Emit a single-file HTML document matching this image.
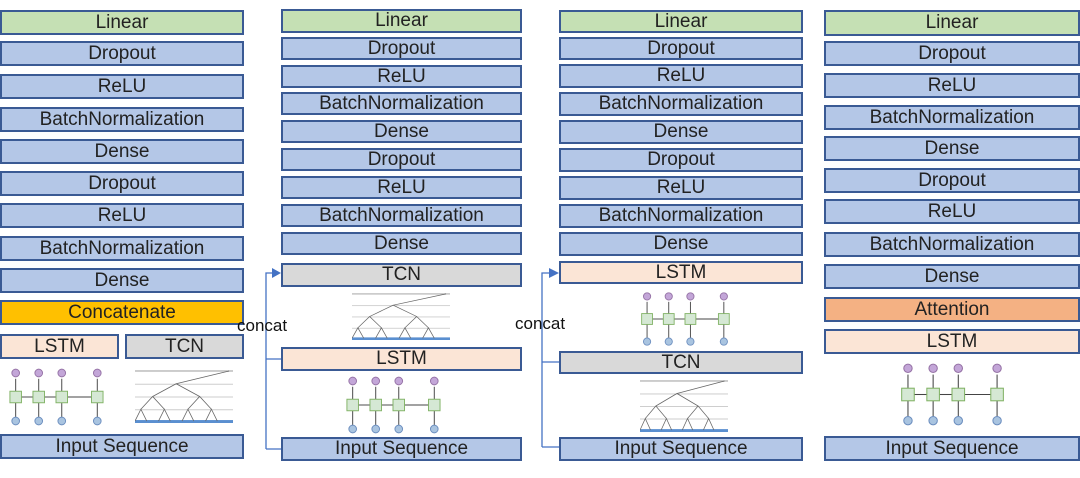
<!DOCTYPE html><html><head><style>
body{margin:0;width:1080px;height:478px;background:#fff;position:relative;overflow:hidden;font-family:"Liberation Sans",sans-serif}
.b{position:absolute;box-sizing:border-box;border:2px solid #3a5a94;background:#b4c7e7;text-align:center;font-size:19px;color:#222;display:flex;align-items:center;justify-content:center}
.g{background:#c5e0b4}.o{background:#ffc000}.p{background:#fbe5d6}.r{background:#d9d9d9}.a{background:#f4b183}
.t{position:absolute;font-size:17px;color:#111}
svg{position:absolute}
</style></head><body>
<svg width="0" height="0"><defs>
<symbol id="ls" viewBox="0 0 100 62">
<g stroke="#444" stroke-width="1" fill="none">
<line x1="8" y1="12" x2="8" y2="52"/><line x1="32" y1="12" x2="32" y2="52"/><line x1="56" y1="12" x2="56" y2="52"/><line x1="93" y1="12" x2="93" y2="52"/>
<line x1="14" y1="31" x2="26" y2="31"/><line x1="38" y1="31" x2="50" y2="31"/><line x1="62" y1="31" x2="87" y2="31"/></g>
<g fill="#d5e8d4" stroke="#82b366"><rect x="2" y="25" width="12" height="12"/><rect x="26" y="25" width="12" height="12"/><rect x="50" y="25" width="12" height="12"/><rect x="87" y="25" width="12" height="12"/></g>
<g fill="#c3a6d8" stroke="#9673a6"><circle cx="8" cy="6" r="4"/><circle cx="32" cy="6" r="4"/><circle cx="56" cy="6" r="4"/><circle cx="93" cy="6" r="4"/></g>
<g fill="#a9c4e0" stroke="#6c8ebf"><circle cx="8" cy="56" r="4"/><circle cx="32" cy="56" r="4"/><circle cx="56" cy="56" r="4"/><circle cx="93" cy="56" r="4"/></g>
</symbol>
<symbol id="tc" viewBox="0 0 100 54">
<g fill="#ccc"><rect x="0" y="0" width="100" height="2"/><rect x="0" y="14" width="100" height="1"/><rect x="0" y="27" width="100" height="1"/><rect x="0" y="40" width="100" height="1"/></g>
<g fill="#5a8fd0"><rect x="0" y="51" width="100" height="3"/></g>
<g stroke="#666" stroke-width="0.8" fill="none"><path d="M0 52 L6 40 L12 52 M24 52 L30 40 L36 52 M48 52 L54 40 L60 52 M72 52 L78 40 L84 52 M6 40 L18 27 L30 40 M54 40 L66 27 L78 40 M18 27 L42 14 L66 27 M42 14 L96 1"/></g>
</symbol></defs></svg>

<!-- col1 -->
<div class="b g" style="left:0;top:10px;width:244px;height:25px">Linear</div>
<div class="b" style="left:0;top:41px;width:244px;height:25px">Dropout</div>
<div class="b" style="left:0;top:74px;width:244px;height:25px">ReLU</div>
<div class="b" style="left:0;top:107px;width:244px;height:25px">BatchNormalization</div>
<div class="b" style="left:0;top:139px;width:244px;height:25px">Dense</div>
<div class="b" style="left:0;top:171px;width:244px;height:25px">Dropout</div>
<div class="b" style="left:0;top:203px;width:244px;height:25px">ReLU</div>
<div class="b" style="left:0;top:236px;width:244px;height:25px">BatchNormalization</div>
<div class="b" style="left:0;top:268px;width:244px;height:25px">Dense</div>
<div class="b o" style="left:0;top:300px;width:244px;height:25px">Concatenate</div>
<div class="b p" style="left:0;top:334px;width:119px;height:25px">LSTM</div>
<div class="b r" style="left:125px;top:334px;width:119px;height:25px">TCN</div>
<svg style="left:8px;top:367px" width="96" height="60"><use href="#ls"/></svg>
<svg style="left:135px;top:370px" width="98" height="53" viewBox="0 0 100 54" preserveAspectRatio="none"><use href="#tc"/></svg>
<div class="b" style="left:0;top:434px;width:244px;height:25px">Input Sequence</div>

<!-- col2 -->
<div class="b g" style="left:281px;top:9px;width:241px;height:24px">Linear</div>
<div class="b" style="left:281px;top:37px;width:241px;height:23px">Dropout</div>
<div class="b" style="left:281px;top:65px;width:241px;height:23px">ReLU</div>
<div class="b" style="left:281px;top:92px;width:241px;height:23px">BatchNormalization</div>
<div class="b" style="left:281px;top:120px;width:241px;height:23px">Dense</div>
<div class="b" style="left:281px;top:148px;width:241px;height:23px">Dropout</div>
<div class="b" style="left:281px;top:176px;width:241px;height:23px">ReLU</div>
<div class="b" style="left:281px;top:204px;width:241px;height:23px">BatchNormalization</div>
<div class="b" style="left:281px;top:232px;width:241px;height:23px">Dense</div>
<div class="b r" style="left:281px;top:263px;width:241px;height:24px">TCN</div>
<svg style="left:352px;top:293px" width="98" height="47" viewBox="0 0 100 54" preserveAspectRatio="none"><use href="#tc"/></svg>
<div class="b p" style="left:281px;top:347px;width:241px;height:24px">LSTM</div>
<svg style="left:345px;top:375px" width="96" height="60"><use href="#ls"/></svg>
<div class="b" style="left:281px;top:437px;width:241px;height:24px">Input Sequence</div>
<svg style="left:260px;top:265px" width="22" height="190"><path d="M6 184 H21 M6 94 H21 M6 184 V8 H12" stroke="#4472c4" stroke-width="1.3" fill="none"/><path d="M12 3 L21 8 L12 13Z" fill="#4472c4"/></svg>
<div class="t" style="left:237px;top:316px">concat</div>

<!-- col3 -->
<div class="b g" style="left:559px;top:10px;width:244px;height:23px">Linear</div>
<div class="b" style="left:559px;top:37px;width:244px;height:23px">Dropout</div>
<div class="b" style="left:559px;top:64px;width:244px;height:24px">ReLU</div>
<div class="b" style="left:559px;top:92px;width:244px;height:24px">BatchNormalization</div>
<div class="b" style="left:559px;top:120px;width:244px;height:24px">Dense</div>
<div class="b" style="left:559px;top:148px;width:244px;height:24px">Dropout</div>
<div class="b" style="left:559px;top:176px;width:244px;height:24px">ReLU</div>
<div class="b" style="left:559px;top:204px;width:244px;height:24px">BatchNormalization</div>
<div class="b" style="left:559px;top:232px;width:244px;height:24px">Dense</div>
<div class="b p" style="left:559px;top:261px;width:244px;height:23px">LSTM</div>
<svg style="left:633px;top:291px" width="104" height="56"><use href="#ls"/></svg>
<div class="b r" style="left:559px;top:351px;width:244px;height:23px">TCN</div>
<svg style="left:640px;top:380px" width="88" height="52" viewBox="0 0 100 54" preserveAspectRatio="none"><use href="#tc"/></svg>
<div class="b" style="left:559px;top:437px;width:244px;height:24px">Input Sequence</div>
<svg style="left:536px;top:265px" width="24" height="190"><path d="M6 182 H23 M6 97 H23 M6 182 V8 H14" stroke="#4472c4" stroke-width="1.3" fill="none"/><path d="M13 3 L23 8 L13 13Z" fill="#4472c4"/></svg>
<div class="t" style="left:515px;top:314px">concat</div>

<!-- col4 -->
<div class="b g" style="left:824px;top:10px;width:256px;height:26px">Linear</div>
<div class="b" style="left:824px;top:41px;width:256px;height:25px">Dropout</div>
<div class="b" style="left:824px;top:73px;width:256px;height:25px">ReLU</div>
<div class="b" style="left:824px;top:105px;width:256px;height:25px">BatchNormalization</div>
<div class="b" style="left:824px;top:136px;width:256px;height:25px">Dense</div>
<div class="b" style="left:824px;top:168px;width:256px;height:25px">Dropout</div>
<div class="b" style="left:824px;top:199px;width:256px;height:25px">ReLU</div>
<div class="b" style="left:824px;top:232px;width:256px;height:25px">BatchNormalization</div>
<div class="b" style="left:824px;top:264px;width:256px;height:25px">Dense</div>
<div class="b a" style="left:824px;top:297px;width:256px;height:25px">Attention</div>
<div class="b p" style="left:824px;top:329px;width:256px;height:25px">LSTM</div>
<svg style="left:898px;top:362px" width="108" height="65"><use href="#ls"/></svg>
<div class="b" style="left:824px;top:436px;width:256px;height:25px">Input Sequence</div>
</body></html>
